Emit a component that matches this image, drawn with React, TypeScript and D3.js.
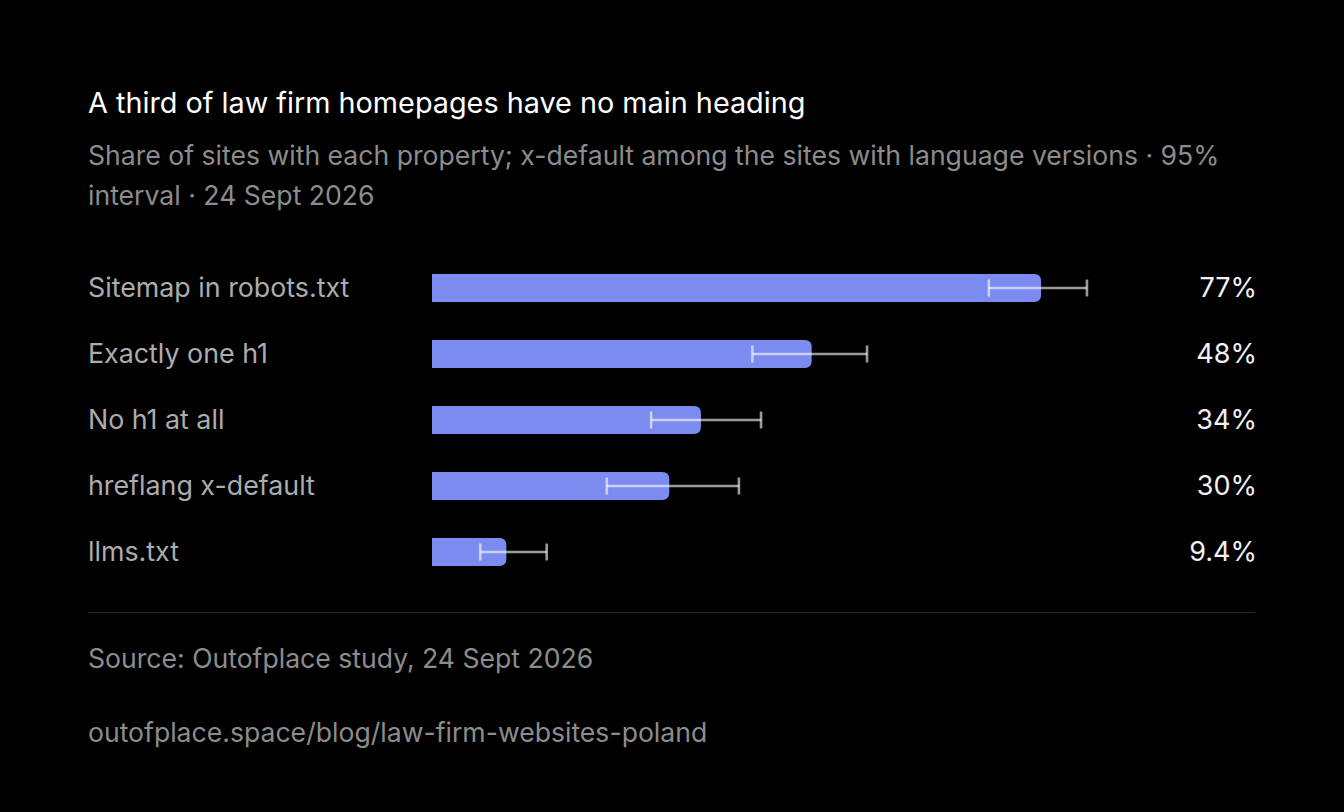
import * as d3 from 'd3';
import React, { useEffect } from 'react';

const categories = ['Sitemap in robots.txt', 'Exactly one h1', 'No h1 at all', 'hreflang x-default', 'llms.txt'];
const shares = [77, 48, 34, 30, 9.4];
const lowerCI = [70.4, 40.5, 27.7, 22.1, 6.1];
const upperCI = [82.8, 55.0, 41.6, 38.8, 14.5];
const valueLabels = ['77%', '48%', '34%', '30%', '9.4%'];

const W = 1344;
const H = 812;
const FONT = 'Inter, "Noto Sans", sans-serif';

// bar with square left end and rounded right end
const barPath = (x0: number, x1: number, yc: number, h: number, r: number) => {
  const t = yc - h / 2;
  const b = yc + h / 2;
  const rr = Math.min(r, (x1 - x0) / 2);
  return `M${x0},${t}H${x1 - rr}Q${x1},${t} ${x1},${t + rr}V${b - rr}Q${x1},${b} ${x1 - rr},${b}H${x0}Z`;
};

const App: React.FC = () => {
  useEffect(() => {
    document.body.style.margin = '0';
    document.body.style.background = '#000';
  }, []);

  const x = d3.scaleLinear().domain([0, 100]).range([432, 1223]);
  const y = d3.scalePoint<string>().domain(categories).range([288, 552]);
  const barH = 28;

  return (
    <svg width={W} height={H} style={{ display: 'block', background: '#000' }} fontFamily={FONT}>
      <rect width={W} height={H} fill="#000" />
      <text x={88} y={113} fill="#ffffff" fontSize={28.8} fontWeight={400}>
        A third of law firm homepages have no main heading
      </text>
      <text x={88} y={165} fill="#8c8c8c" fontSize={26.6}>
        Share of sites with each property; x-default among the sites with language versions · 95%
      </text>
      <text x={88} y={205} fill="#8c8c8c" fontSize={26.6}>
        interval · 24 Sept 2026
      </text>

      {categories.map((c, i) => {
        const yc = y(c)!;
        return (
          <g key={c}>
            <text x={88} y={yc + 8.5} fill="#acacac" fontSize={26.8}>
              {c}
            </text>
            <path d={barPath(x(0), x(shares[i]), yc, barH, 7)} fill="#7b8bf0" />
            <g stroke="#ffffff" strokeOpacity={0.6} strokeWidth={2.6}>
              <line x1={x(lowerCI[i])} x2={x(upperCI[i])} y1={yc} y2={yc} />
              <line x1={x(lowerCI[i])} x2={x(lowerCI[i])} y1={yc - 8.5} y2={yc + 8.5} />
              <line x1={x(upperCI[i])} x2={x(upperCI[i])} y1={yc - 8.5} y2={yc + 8.5} />
            </g>
            <text x={1257} y={yc + 8.5} fill="#f2f2f2" fontSize={27} textAnchor="end">
              {valueLabels[i]}
            </text>
          </g>
        );
      })}

      <line x1={88} x2={1255} y1={612.5} y2={612.5} stroke="#2a2a2a" strokeWidth={1} />
      <text x={88} y={668} fill="#8c8c8c" fontSize={26.6}>
        Source: Outofplace study, 24 Sept 2026
      </text>
      <text x={88} y={742} fill="#8c8c8c" fontSize={26.6}>
        outofplace.space/blog/law-firm-websites-poland
      </text>
    </svg>
  );
};

export default App;
